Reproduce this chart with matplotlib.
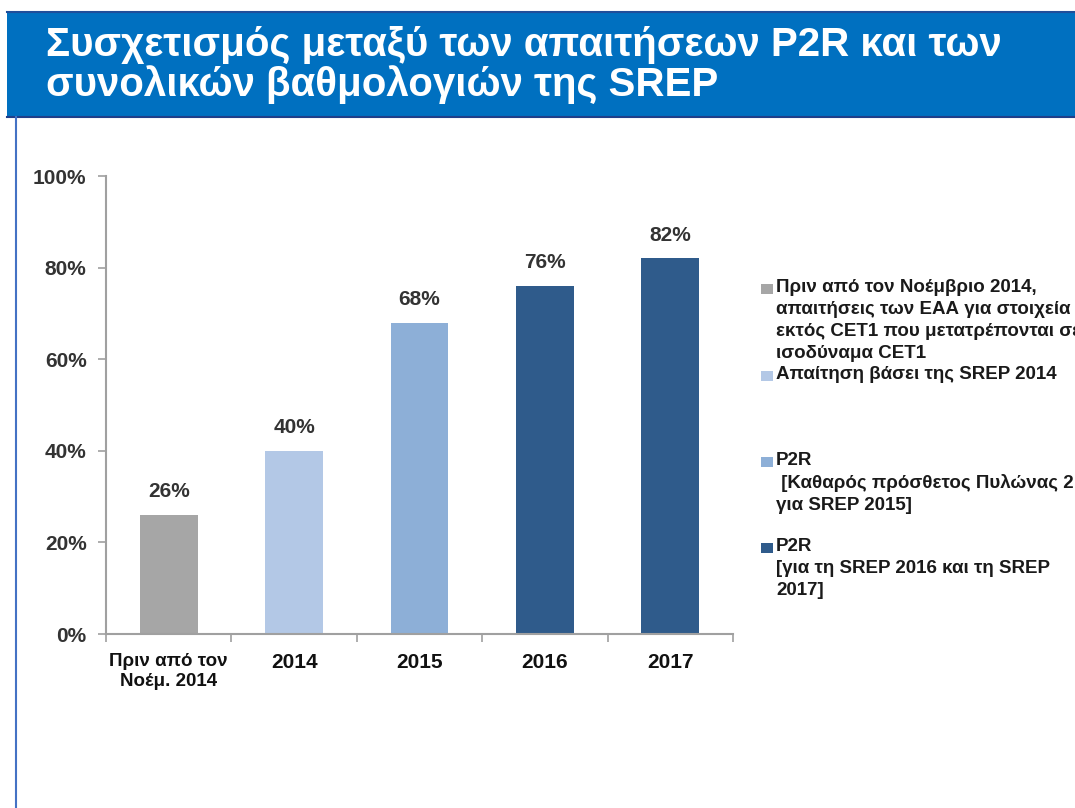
import matplotlib
matplotlib.use("Agg")
import matplotlib.pyplot as plt
from matplotlib.patches import Rectangle
from matplotlib.lines import Line2D

categories = ["Πριν από τον\nΝοέμ. 2014", "2014", "2015", "2016", "2017"]
values = [26, 40, 68, 76, 82]
bar_colors = ["#A6A6A6", "#B3C8E6", "#8DAFD7", "#2F5B8B", "#2F5B8B"]
yticks = [0, 20, 40, 60, 80, 100]
legend_labels = [
    "Πριν από τον Νοέμβριο 2014,\nαπαιτήσεις των ΕΑΑ για στοιχεία\nεκτός CET1 που μετατρέπονται σε\nισοδύναμα CET1",
    "Απαίτηση βάσει της SREP 2014",
    "P2R\n [Καθαρός πρόσθετος Πυλώνας 2\nγια SREP 2015]",
    "P2R\n[για τη SREP 2016 και τη SREP\n2017]",
]
legend_colors = ["#A6A6A6", "#B3C8E6", "#8DAFD7", "#2F5B8B"]
title = "Συσχετισμός μεταξύ των απαιτήσεων P2R και των\nσυνολικών βαθμολογιών της SREP"

plt.rcParams['font.family'] = ['Liberation Sans', 'DejaVu Sans']

W, H = 1075, 808
fig = plt.figure(figsize=(W / 100, H / 100), dpi=100)

def fx(px):
    return px / W

def fy(py):
    return 1 - py / H

# header band
fig.patches.append(Rectangle((fx(7), fy(117)), 1 - fx(7), fy(11) - fy(117),
                             transform=fig.transFigure, facecolor="#0070C0",
                             edgecolor="none", zorder=0))
fig.lines.append(Line2D([fx(7), 1], [fy(11.5), fy(11.5)], transform=fig.transFigure,
                        color="#1F4E9A", lw=1.5))
fig.lines.append(Line2D([fx(7), 1], [fy(116.5), fy(116.5)], transform=fig.transFigure,
                        color="#1F3F8A", lw=1.5))
fig.lines.append(Line2D([fx(15.5), fx(15.5)], [fy(117), 0], transform=fig.transFigure,
                        color="#4472C4", lw=1.5))
fig.text(fx(46), fy(26), title, color="white", fontsize=29, fontweight="bold",
         va="top", ha="left", linespacing=1.02)

ax = fig.add_axes([fx(106), fy(634), fx(733) - fx(106), fy(176) - fy(634)])
x = list(range(len(categories)))
ax.bar(x, values, width=0.46, color=bar_colors, zorder=2)
ax.set_xlim(-0.5, len(categories) - 0.5)
ax.set_ylim(0, 100)
ax.set_yticks(yticks)
ax.set_yticklabels([f"{v}%" for v in yticks], fontsize=15, fontweight="bold", color="#333333")
ax.set_xticks(x)
ax.set_xticklabels(categories, fontsize=15, fontweight="bold", color="#111111", linespacing=1.2)
ax.get_xticklabels()[0].set_fontsize(13.5)
ax.tick_params(axis='x', length=0, pad=14)
ax.tick_params(axis='y', length=6, width=1.2, color="#A0A0A0", pad=8)
ax.set_xticks([i - 0.5 for i in range(len(categories) + 1)], minor=True)
ax.tick_params(axis='x', which='minor', length=6, width=1.2, color="#A0A0A0", direction='out')
for s in ["top", "right"]:
    ax.spines[s].set_visible(False)
for s in ["left", "bottom"]:
    ax.spines[s].set_color("#A0A0A0")
    ax.spines[s].set_linewidth(1.5)

for xi, v in zip(x, values):
    ax.annotate(f"{v}%", (xi, v), xytext=(0, 10), textcoords="offset points",
                ha="center", va="bottom", fontsize=15, fontweight="bold", color="#333333")

# legend
legend_y = [289, 376, 462, 548]
for lab, col, yy in zip(legend_labels, legend_colors, legend_y):
    fig.patches.append(Rectangle((fx(761), fy(yy + 5)), fx(12), fy(0) - fy(10),
                                 transform=fig.transFigure, facecolor=col, edgecolor="none"))
    fig.text(fx(776), fy(yy - 10), lab, fontsize=13.5, fontweight="bold", color="#1a1a1a",
             va="top", ha="left", linespacing=1.38)

fig.savefig("out.png", dpi=100)
